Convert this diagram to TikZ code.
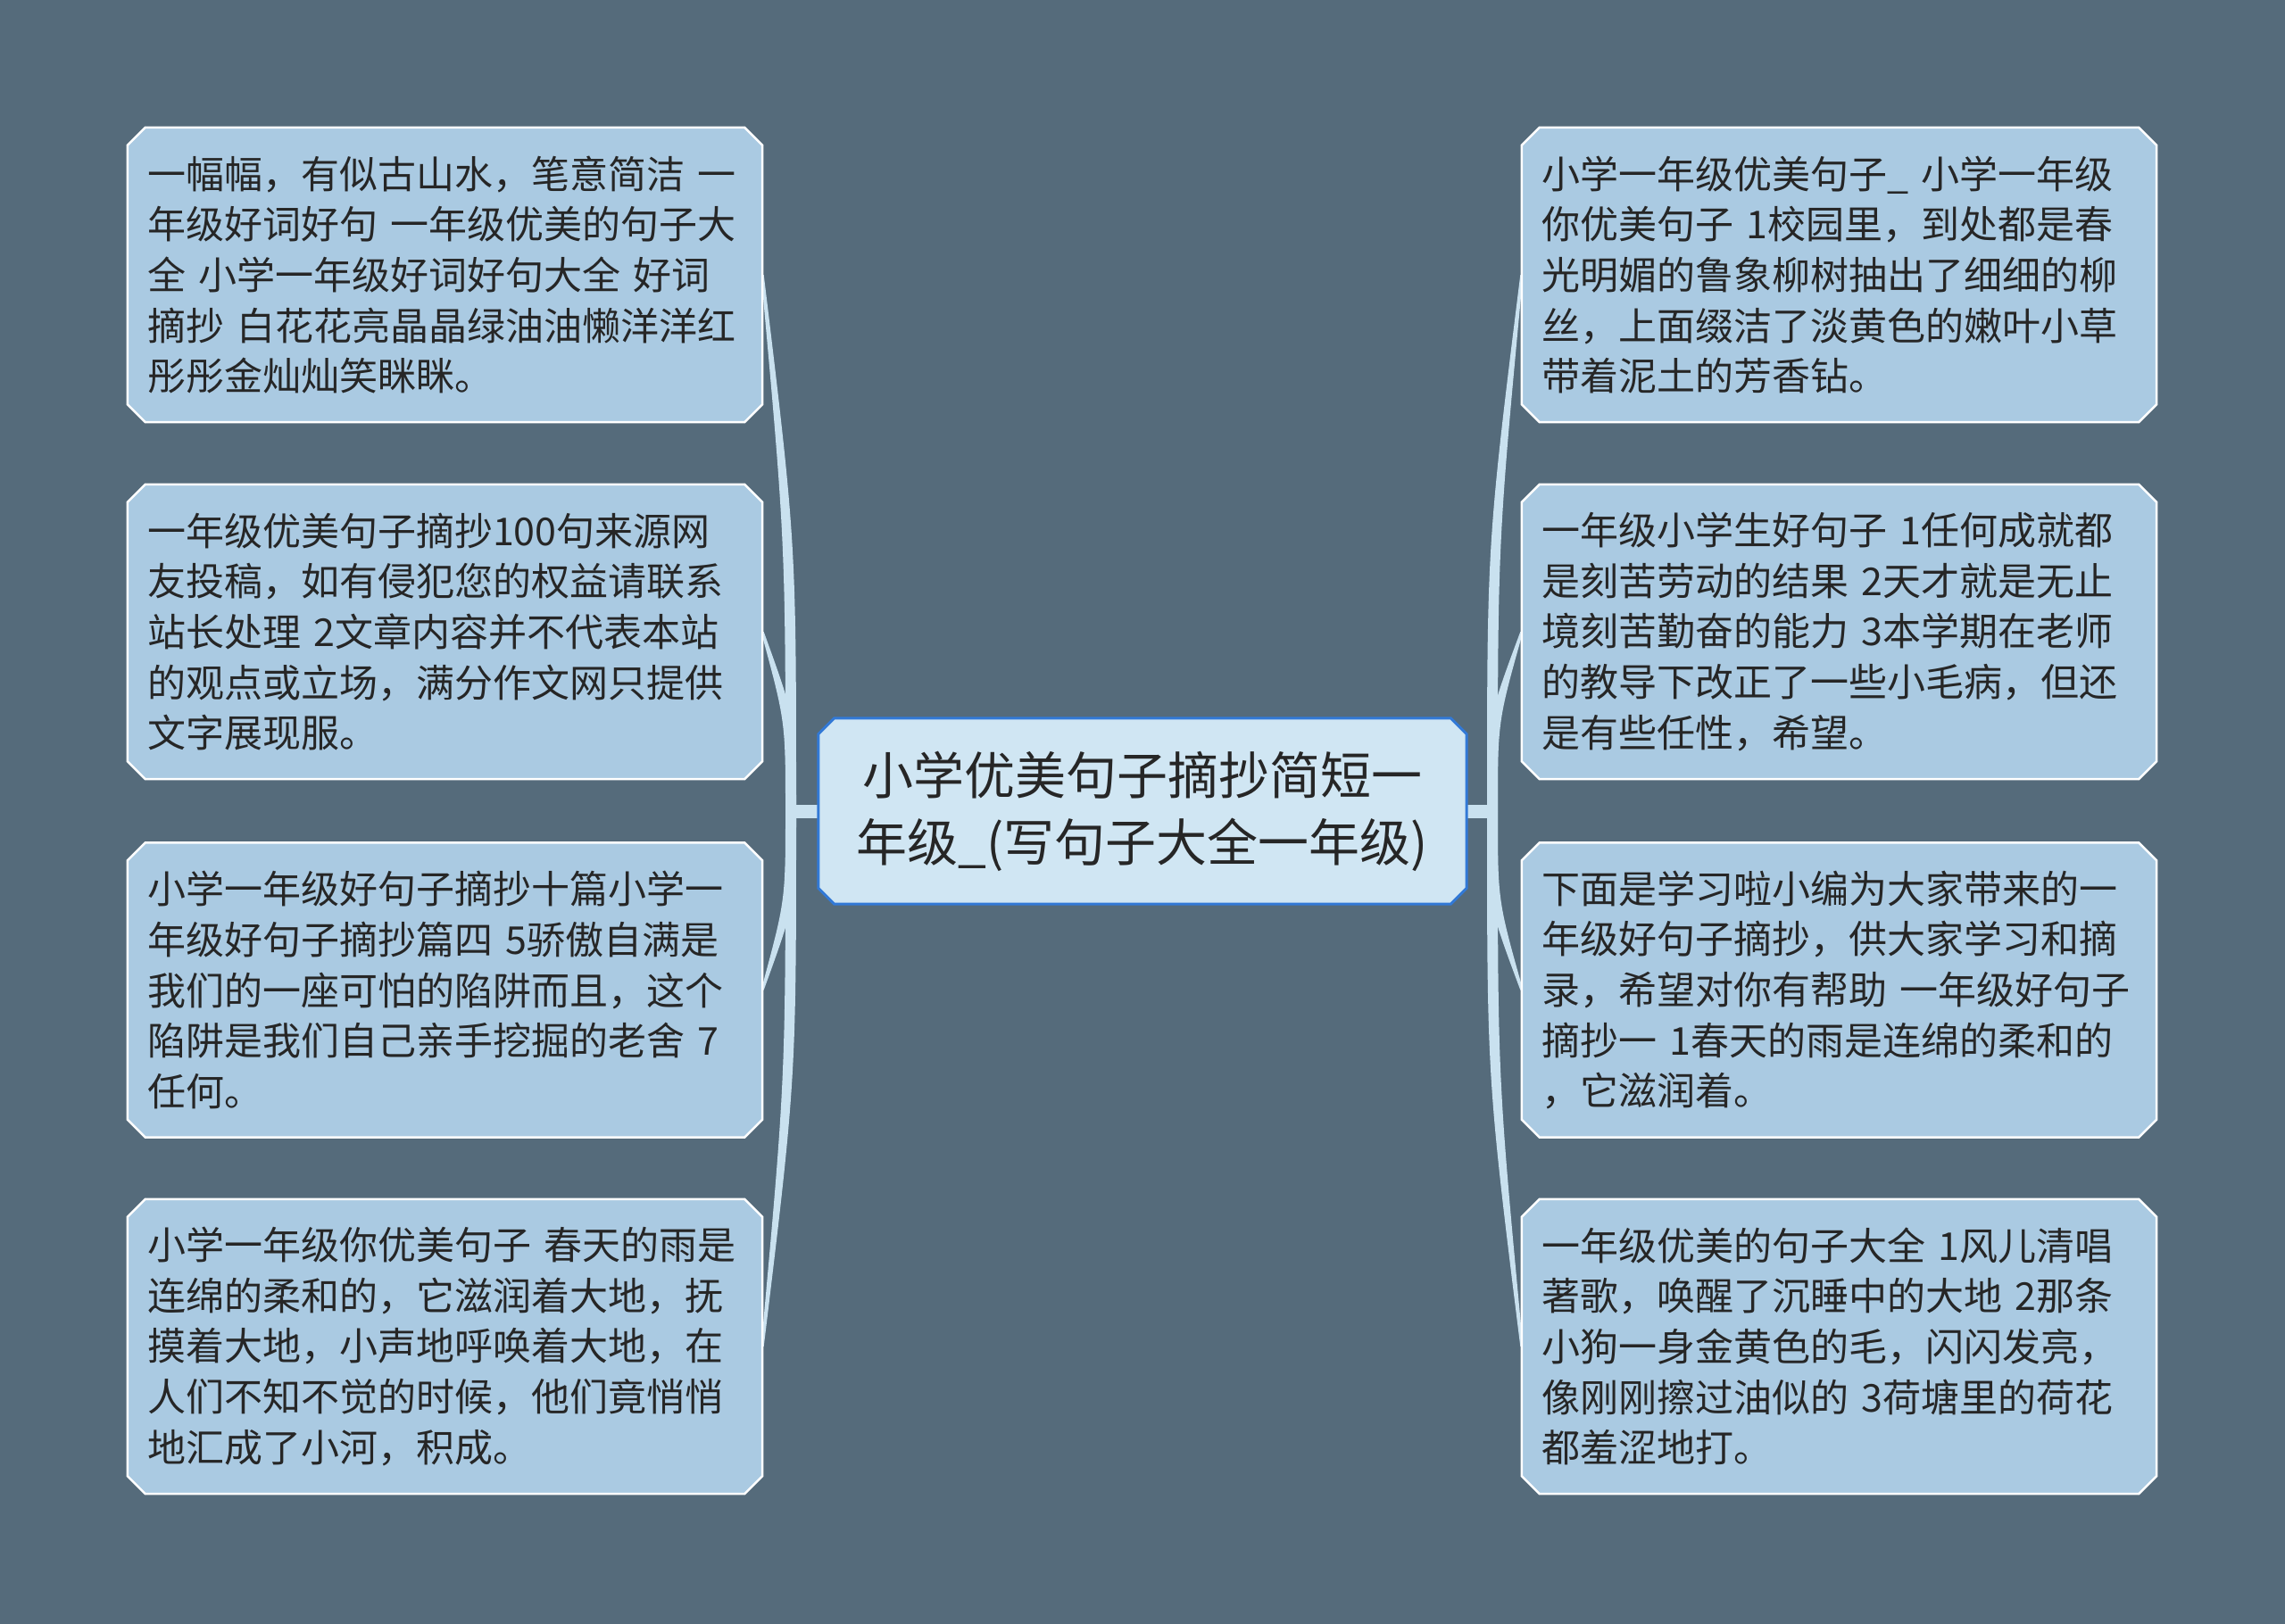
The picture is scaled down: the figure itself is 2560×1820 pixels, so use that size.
\documentclass[tikz,border=0pt]{standalone}
\usepackage{fontspec}
\setmainfont{Noto Sans CJK SC}
\usetikzlibrary{calc}
\definecolor{bgc}{HTML}{556B7B}
\definecolor{leafc}{HTML}{AACAE2}
\definecolor{rootc}{HTML}{D0E6F3}
\definecolor{rootb}{HTML}{3279D6}
\definecolor{connc}{HTML}{C9E1EF}
\definecolor{txtc}{HTML}{262626}
\pgfdeclarelayer{bottom}
\pgfdeclarelayer{background}
\pgfsetlayers{bottom,background,main}
\newcommand\chbox[3]{%
  \path[#2] let \p1=(#1.north west), \p2=(#1.south east) in
    (\x1+#3,\y1) -- (\x2-#3,\y1) -- (\x2,\y1-#3) -- (\x2,\y2+#3) --
    (\x2-#3,\y2) -- (\x1+#3,\y2) -- (\x1,\y2+#3) -- (\x1,\y1-#3) -- cycle;}
\newcommand\branch[2]{%
  \fill[connc] let \p1=(#1), \p2=(#2) in
    (\x1-6,\y1) .. controls (\x1-6,{0.5*\y1+0.5*\y2}) .. (\x2-1.5,\y2) --
    (\x2+1.5,\y2) .. controls (\x1+6,{0.5*\y1+0.5*\y2}) .. (\x1+6,\y1) -- cycle;}
\begin{document}
\begin{tikzpicture}[x=1pt,y=-1pt,
  leaf/.style={rectangle, text width=667pt, inner xsep=22pt, inner ysep=0pt,
    minimum height=330pt, align=left, text=txtc,
    font=\fontsize{43}{56.7}\selectfont},
  root/.style={rectangle, minimum width=726pt, minimum height=208pt, inner sep=0pt,
    align=center, text=txtc, font=\fontsize{57}{75}\selectfont},
  leafbox/.style={fill=leafc, draw=white, line width=2.5pt, line join=miter},
  rootbox/.style={fill=rootc, draw=rootb, line width=3pt},
  stub/.style={draw=connc, line width=15pt}]
\begin{pgfonlayer}{bottom}
\fill[bgc] (0,0) rectangle (2560,1820);
\end{pgfonlayer}
\useasboundingbox (0,0) rectangle (2560,1820);

\node[root] (c) at (1280,909) {小学优美句子摘抄简短一\\年级\_(写句子大全一年级)};

\node[leaf] (l1) at (498.5,308) {一幅幅，有似古山水，笔意简洁 一\\年级好词好句 一年级优美的句子大\\全 小学一年级好词好句大全 好词\\摘抄 白花花亮晶晶绿油油懒洋洋红\\彤彤金灿灿笑眯眯。};
\node[leaf] (l2) at (498.5,708) {一年级优美句子摘抄100句来源网\\友投稿，如有侵犯您的权益请联系\\站长处理 2文章内容并不代表本站\\的观点或立场，满分作文网只提供\\文字展现服。};
\node[leaf] (l3) at (498.5,1109.5) {小学一年级好句子摘抄十篇小学一\\年级好句子摘抄篇四 5骄傲自满是\\我们的一座可怕的陷阱而且，这个\\陷阱是我们自己亲手挖掘的老舍 7\\任何。};
\node[leaf] (l4) at (498.5,1509) {小学一年级你优美句子 春天的雨是\\连绵的柔和的，它滋润着大地，抚\\摸着大地，小声地呼唤着大地，在\\人们不知不觉的时候，他们竟悄悄\\地汇成了小河，积成。};

\node[leaf] (r1) at (2060.5,308) {小学一年级优美句子\_ 小学一年级\\你优美句子 1校园里，到处都是春\\光明媚的鲁象柳树抽出了细细的柳\\丝，上面缀洁了淡黄色的嫩叶小草\\带着泥土的芳香钻。};
\node[leaf] (r2) at (2060.5,708) {一年级小学生好句子 1任何成就都\\是刻苦劳动的结果 2天才就是无止\\境刻苦勤奋的能力 3本学期在老师\\的教导下改正了一些小毛病，但还\\是有些任性，希望。};
\node[leaf] (r3) at (2060.5,1109.5) {下面是学习啦小编为大家带来的一\\年级好句子摘抄，供大家学习和摘\\录，希望对你有帮助 一年级好句子\\摘抄一 1春天的雨是连绵的柔和的\\，它滋润着。};
\node[leaf] (r4) at (2060.5,1509) {一年级优美的句子大全 1风儿清唱\\著歌，唤醒了沉睡中的大地 2那条\\小狗一身金黄色的毛，闪闪发亮，\\像刚刚擦过油似的 3荷塘里的荷花\\都羞涩地打。};

\coordinate (jl) at (886,909);
\coordinate (jr) at (1672,909);

\begin{pgfonlayer}{background}
\draw[stub] (c.west) -- (jl);
\draw[stub] (c.east) -- (jr);
\branch{jl}{l1.east}
\branch{jl}{l2.east}
\branch{jl}{l3.east}
\branch{jl}{l4.east}
\branch{jr}{r1.west}
\branch{jr}{r2.west}
\branch{jr}{r3.west}
\branch{jr}{r4.west}
\chbox{c}{rootbox}{18}
\chbox{l1}{leafbox}{20}
\chbox{l2}{leafbox}{20}
\chbox{l3}{leafbox}{20}
\chbox{l4}{leafbox}{20}
\chbox{r1}{leafbox}{20}
\chbox{r2}{leafbox}{20}
\chbox{r3}{leafbox}{20}
\chbox{r4}{leafbox}{20}
\end{pgfonlayer}
\end{tikzpicture}
\end{document}
